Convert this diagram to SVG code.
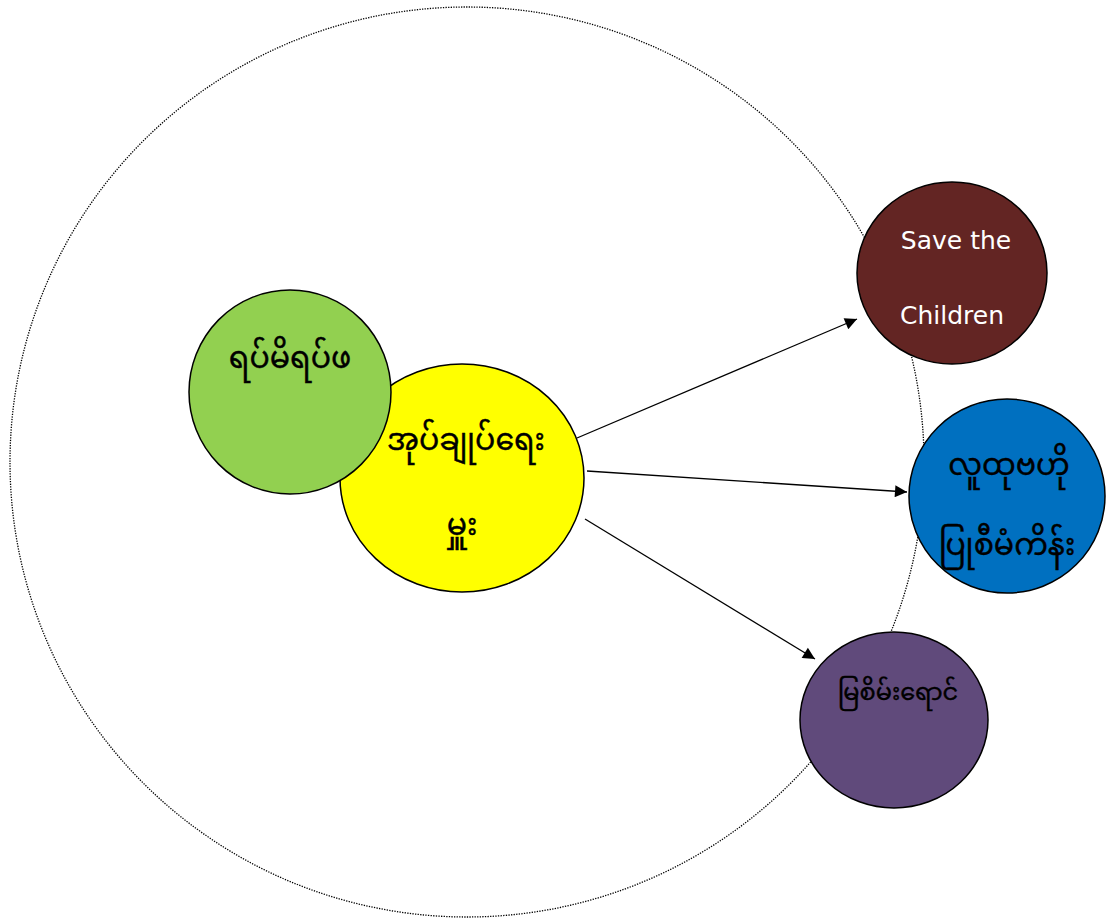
<svg xmlns="http://www.w3.org/2000/svg" width="1113" height="921" viewBox="0 0 1113 921">
<style>
.node{stroke:#000;stroke-width:1.5}
.my{font-family:"Noto Sans Myanmar","Myanmar Text","Padauk","Noto Sans",sans-serif;fill:#000;text-anchor:middle;stroke:#000;stroke-width:0.4}
.en{font-family:"DejaVu Sans","Noto Sans",sans-serif;fill:#fff;text-anchor:middle}
.conn{stroke:#000;stroke-width:1.3;fill:none;marker-end:url(#ah)}
</style>
<defs>
<marker id="ah" viewBox="0 0 10 10" refX="10" refY="5" markerWidth="17" markerHeight="12" markerUnits="userSpaceOnUse" orient="auto"><path d="M0,0 L10,5 L0,10 z" fill="#000"/></marker>
</defs>
<rect width="1113" height="921" fill="#fff"/>
<g id="boundary"><ellipse cx="467" cy="462" rx="457" ry="455" fill="none" stroke="#000" stroke-width="1.3" stroke-dasharray="1.3,1.3"/></g>
<g id="n-yellow"><ellipse class="node" cx="462" cy="478" rx="122" ry="114" fill="#ffff00"/>
<text class="my" x="466" y="450" font-size="30">အုပ်ချုပ်ရေး</text>
<text class="my" x="462" y="535" font-size="30">မှူး</text></g>
<g id="n-green"><ellipse class="node" cx="290" cy="392" rx="101" ry="102" fill="#92d050"/>
<text class="my" x="290" y="368" font-size="30">ရပ်မိရပ်ဖ</text></g>
<g id="n-brown"><ellipse class="node" cx="952" cy="273" rx="95" ry="91" fill="#632523"/>
<text class="en" x="956" y="249" font-size="25">Save the</text>
<text class="en" x="952" y="324" font-size="25">Children</text></g>
<g id="n-blue"><ellipse class="node" cx="1007" cy="496" rx="98" ry="97" fill="#0070c0"/>
<text class="my" x="1009" y="475" font-size="30">လူထုဗဟို</text>
<text class="my" x="1007" y="555" font-size="30">ပြုစီမံကိန်း</text></g>
<g id="n-purple"><ellipse class="node" cx="894" cy="720" rx="94" ry="88" fill="#604a7b"/>
<text class="my" x="898" y="700" font-size="24">မြစိမ်းရောင်</text></g>
<g id="connectors">
<line class="conn" x1="577" y1="438" x2="857" y2="319"/>
<line class="conn" x1="587" y1="471" x2="907" y2="492"/>
<line class="conn" x1="585" y1="519" x2="815" y2="659"/>
</g>
</svg>
